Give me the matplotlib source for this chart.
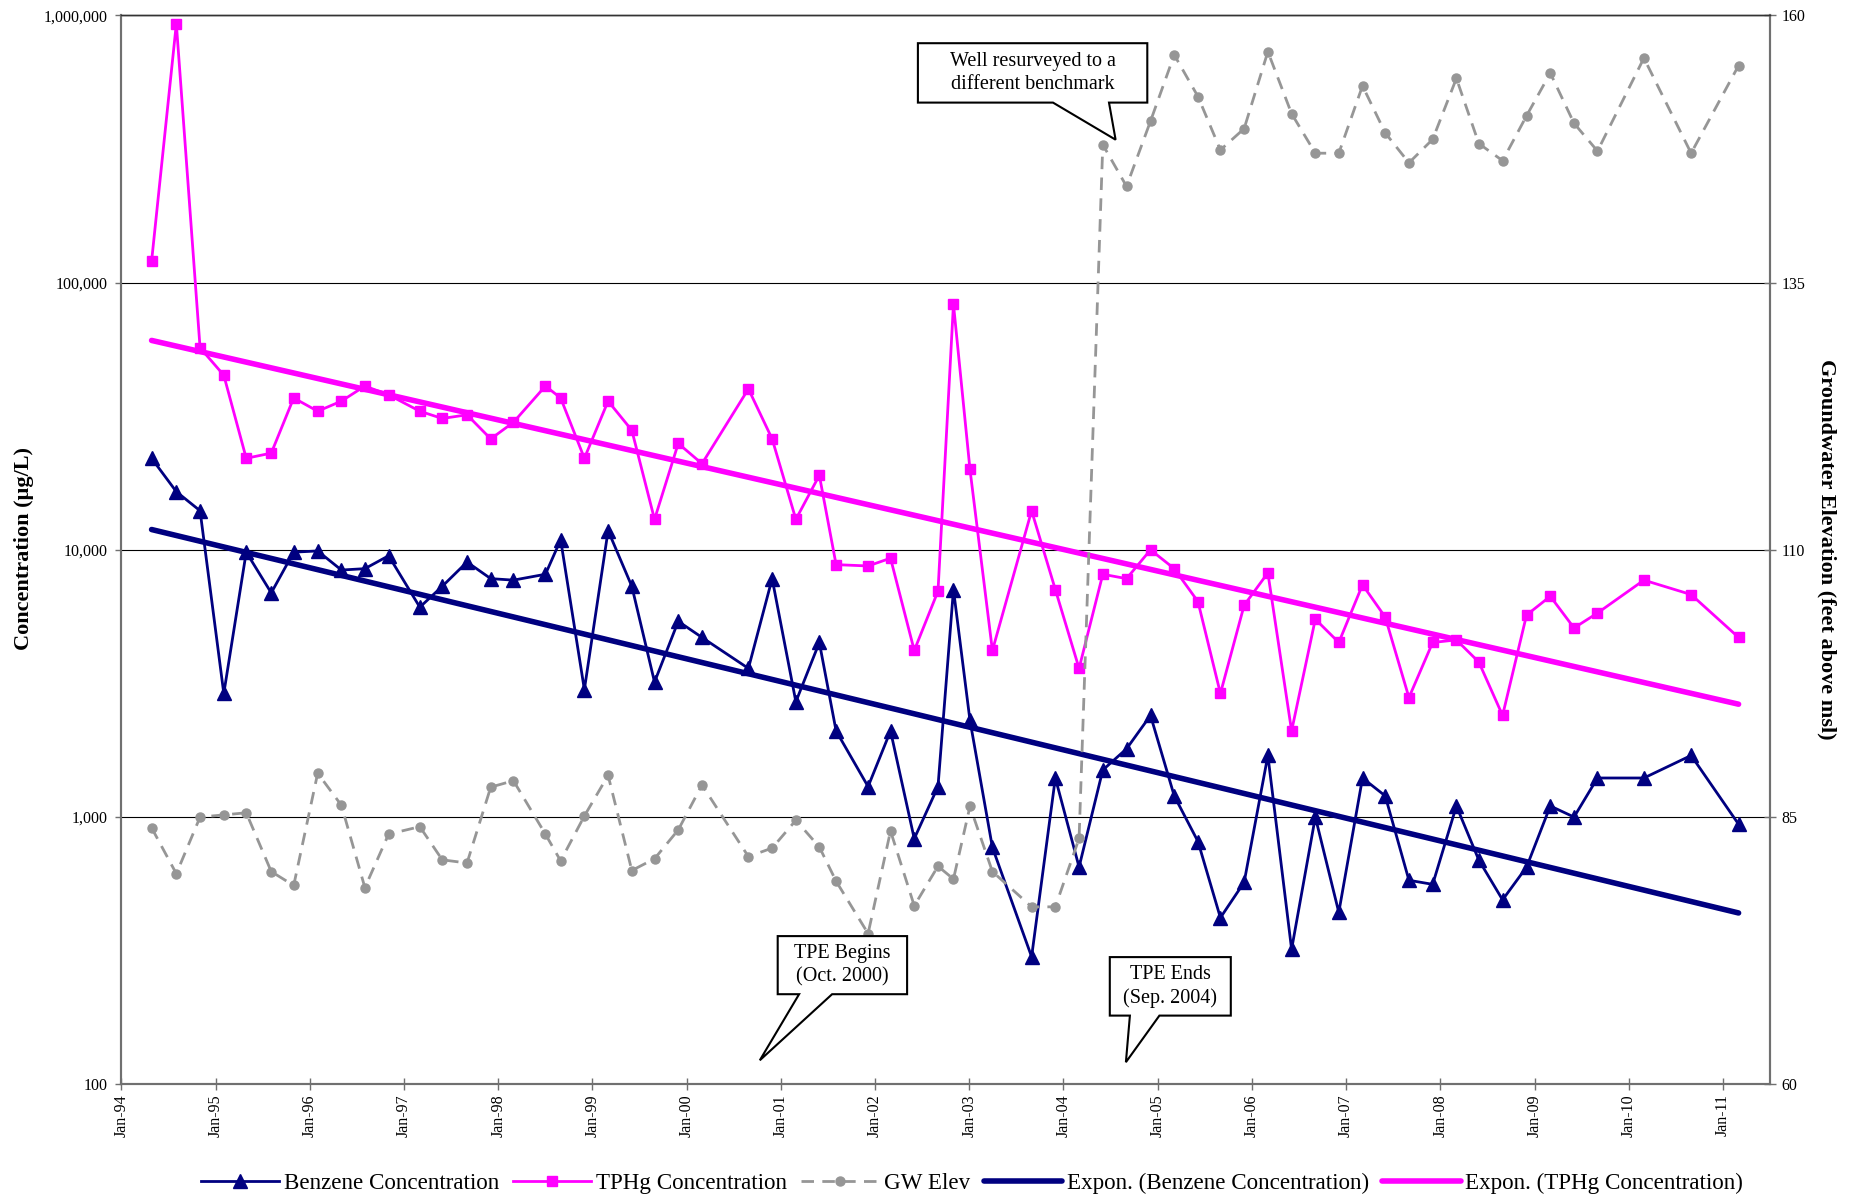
import numpy as np
import pandas as pd
import matplotlib
matplotlib.use('Agg')
import matplotlib.pyplot as plt
import matplotlib.dates as mdates
from matplotlib.ticker import FixedLocator, FuncFormatter, NullLocator
from matplotlib.patches import Polygon

plt.rcParams['font.family'] = ['Liberation Serif', 'DejaVu Serif']

# sampling dates
sample_dates = ['1994-04-28', '1994-08-02', '1994-11-02', '1995-02-02', '1995-04-30', '1995-08-05',
                '1995-10-31', '1996-02-01', '1996-05-03', '1996-08-02', '1996-11-02', '1997-03-03',
                '1997-05-29', '1997-09-02', '1997-12-03', '1998-03-01', '1998-07-03', '1998-08-31',
                '1998-12-01', '1999-03-03', '1999-06-03', '1999-08-30', '1999-11-30', '2000-03-01',
                '2000-08-28', '2000-11-28', '2001-02-28', '2001-05-30', '2001-08-03', '2001-12-05',
                '2002-03-02', '2002-06-02', '2002-09-02', '2002-11-01', '2003-01-04', '2003-04-01',
                '2003-08-31', '2003-12-01', '2004-03-02', '2004-06-02', '2004-09-02', '2004-12-04',
                '2005-03-06', '2005-06-06', '2005-09-01', '2005-12-02', '2006-03-04', '2006-06-04',
                '2006-09-04', '2006-12-04', '2007-03-06', '2007-06-02', '2007-09-02', '2007-12-03',
                '2008-03-04', '2008-05-30', '2008-08-30', '2008-12-01', '2009-03-03', '2009-06-03',
                '2009-09-02', '2010-03-01', '2010-08-31', '2011-03-03']

# ug/L
benzene = [22000, 16500, 14000, 2900, 9800, 6900, 9800, 9900, 8400, 8500, 9500, 6100,
           7300, 9000, 7800, 7700, 8100, 10900, 3000, 11800, 7300, 3200, 5400, 4700,
           3600, 7800, 2700, 4500, 2100, 1300, 2100, 830, 1300, 7100, 2300, 770,
           300, 1400, 650, 1500, 1800, 2400, 1200, 810, 420, 570, 1700, 320,
           1000, 440, 1400, 1200, 580, 560, 1100, 690, 490, 650, 1100, 1000,
           1400, 1400, 1700, 940]

tphg = [120000, 930000, 57000, 45000, 22000, 23000, 37000, 33000, 36000, 41000, 38000, 33000,
        31000, 32000, 26000, 30000, 41000, 37000, 22000, 36000, 28000, 13000, 25000, 21000,
        40000, 26000, 13000, 19000, 8800, 8700, 9300, 4200, 7000, 83000, 20000, 4200,
        14000, 7100, 3600, 8100, 7800, 10000, 8500, 6400, 2900, 6200, 8200, 2100,
        5500, 4500, 7400, 5600, 2800, 4500, 4600, 3800, 2400, 5700, 6700, 5100,
        5800, 7700, 6800, 4700]

# feet above msl
gw_elev = [84.0, 79.7, 85.0, 85.2, 85.4, 79.9, 78.6, 89.1, 86.1, 78.4, 83.4, 84.1,
           81.0, 80.7, 87.8, 88.4, 83.4, 80.9, 85.1, 88.9, 80.0, 81.1, 83.8, 88.0,
           81.3, 82.1, 84.7, 82.2, 79.0, 74.1, 83.7, 76.7, 80.4, 79.2, 86.0, 79.9,
           76.6, 76.6, 83.0, 147.9, 144.0, 150.1, 156.3, 152.4, 147.4, 149.4, 156.6, 150.8,
           147.1, 147.1, 153.4, 149.0, 146.2, 148.4, 154.1, 148.0, 146.4, 150.6, 154.6, 149.9,
           147.3, 156.0, 147.1, 155.3]

conc_ticks = [100, 1000, 10000, 100000, 1000000]
elev_ticks = [60, 85, 110, 135, 160]

NAVY = '#000080'
PINK = '#FF00FF'
GREY = '#969696'
AXC = '#707070'

dates = pd.to_datetime(sample_dates)
t = mdates.date2num(dates)

W, H = 1860, 1199
fig = plt.figure(figsize=(W / 100, H / 100), dpi=100)
ax = fig.add_axes([121.4 / W, 1 - 1084.3 / H, (1770.3 - 121.4) / W, (1084.3 - 15.3) / H])
ax2 = ax.twinx()


def expon(y):
    # excel style exponential trendline: least squares on ln(y)
    b, a = np.polyfit(t, np.log(y), 1)
    tt = t[[0, -1]]
    return mdates.num2date(tt), np.exp(a + b * tt)


l1, = ax.plot(dates, benzene, color=NAVY, lw=2, marker='^', ms=9.5, zorder=3,
              label='Benzene Concentration')
l2, = ax.plot(dates, tphg, color=PINK, lw=2, marker='s', ms=7, zorder=3,
              label='TPHg Concentration')
tx, ty = expon(benzene)
l4, = ax.plot(tx, ty, color=NAVY, lw=4, solid_capstyle='round', zorder=4,
              label='Expon. (Benzene Concentration)')
tx, ty = expon(tphg)
l5, = ax.plot(tx, ty, color=PINK, lw=4, solid_capstyle='round', zorder=4,
              label='Expon. (TPHg Concentration)')
l3, = ax2.plot(dates, gw_elev, color=GREY, lw=2, ls=(0, (4.5, 3)), marker='o', ms=6.5,
               label='GW Elev')

ax.set_yscale('log')
ax.set_ylim(100, 1e6)
ax.yaxis.set_major_locator(FixedLocator(conc_ticks))
ax.yaxis.set_major_formatter(FuncFormatter(lambda v, p: f'{v:,.0f}'))
ax.yaxis.set_minor_locator(NullLocator())
ax.set_xlim(pd.Timestamp('1994-01-01'), pd.Timestamp('2011-07-04'))
ax.xaxis.set_major_locator(mdates.YearLocator())
ax.xaxis.set_major_formatter(mdates.DateFormatter('%b-%y'))
ax.grid(True, axis='y', color='black', lw=0.8)
ax.set_axisbelow(True)

ax2.set_ylim(60, 160)
ax2.yaxis.set_major_locator(FixedLocator(elev_ticks))

ax.tick_params(axis='y', direction='out', length=4, width=1, color=AXC, labelsize=11.5, pad=6)
ax.tick_params(axis='x', direction='inout', length=8, width=1, color=AXC, labelsize=11.5,
               pad=3, labelrotation=90)
ax2.tick_params(axis='y', direction='inout', length=8, width=1, color=AXC, labelsize=11.5, pad=4)

for a in (ax, ax2):
    for side in ('left', 'right', 'bottom'):
        a.spines[side].set_color(AXC)
        a.spines[side].set_linewidth(1.5)
    a.spines['top'].set_color('#333333')
    a.spines['top'].set_linewidth(1)

fig.text(23.5 / W, 1 - 549 / H, 'Concentration (µg/L)', rotation=90, ha='center', va='center',
         fontsize=16, fontweight='bold')
fig.text(1826.5 / W, 1 - 549 / H, 'Groundwater Elevation (feet above msl)', rotation=270,
         ha='center', va='center', fontsize=16, fontweight='bold')


def callout(pts, text, cx, cy):
    poly = Polygon([(x / W, 1 - y / H) for x, y in pts], closed=True, transform=fig.transFigure,
                   facecolor='white', edgecolor='black', lw=1.5, zorder=10)
    fig.add_artist(poly)
    fig.text(cx / W, 1 - cy / H, text, ha='center', va='center', fontsize=14.5,
             linespacing=1.3, zorder=11)


callout([(917.9, 43.2), (1147.3, 43.2), (1147.3, 102.6), (1109, 102.6), (1115.6, 139.7),
         (1053, 102.6), (917.9, 102.6)], 'Well resurveyed to a\ndifferent benchmark', 1032.6, 72.9)
callout([(777.7, 936.1), (907.1, 936.1), (907.1, 994.2), (832.1, 994.2), (759.8, 1060.3),
         (799.1, 994.2), (777.7, 994.2)], 'TPE Begins\n(Oct. 2000)', 842.4, 965.2)
callout([(1109.8, 957.1), (1230.8, 957.1), (1230.8, 1015.6), (1159.4, 1015.6), (1125.9, 1062.2),
         (1129.9, 1015.6), (1109.8, 1015.6)], 'TPE Ends\n(Sep. 2004)', 1170.3, 986.4)

fig.legend([l1, l2, l3, l4, l5], [h.get_label() for h in (l1, l2, l3, l4, l5)],
           loc='center', bbox_to_anchor=(972 / W, 1 - 1183 / H), ncol=5, frameon=False,
           fontsize=16.6, handlelength=3.4, handletextpad=0.2, columnspacing=0.6,
           borderaxespad=0)

fig.savefig('out.png', dpi=100)
